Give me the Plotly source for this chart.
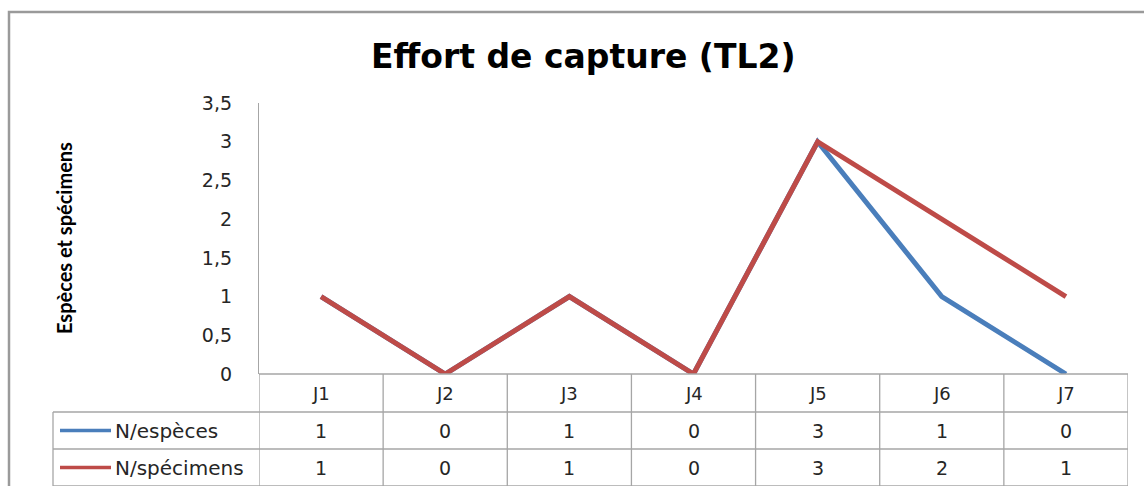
import plotly.graph_objects as go

categories = ["J1", "J2", "J3", "J4", "J5", "J6", "J7"]
especes = [1, 0, 1, 0, 3, 1, 0]
specimens = [1, 0, 1, 0, 3, 2, 1]
series_names = ["N/espèces", "N/spécimens"]
colors = ["#4A7EBB", "#BE4B48"]
title = "Effort de capture (TL2)"
y_title = "Espèces et spécimens"

W, H = 1144, 486
def px(x):
    return x / W
def py(y):
    return (H - y) / H

X0, X1 = 259, 1128
Y_TOP, Y_ZERO = 103, 374
ROWS = [374, 412, 449, 486]
TABLE_LEFT = 53
FONT = "DejaVu Sans"
TXT = "#262626"

fig = go.Figure()
for name, vals, col in zip(series_names, [especes, specimens], colors):
    fig.add_trace(go.Scatter(x=categories, y=vals, mode="lines", name=name,
                             line=dict(color=col, width=5), showlegend=False))

shapes = []
grid = dict(color="#A6A6A6", width=1.3)
shapes.append(dict(type="rect", xref="paper", yref="paper", x0=px(9), x1=1.02,
                   y0=-0.02, y1=py(12), line=dict(color="#9A9A9A", width=2.5)))
shapes.append(dict(type="line", xref="paper", yref="paper", x0=px(X0), x1=px(X1),
                   y0=py(ROWS[0]), y1=py(ROWS[0]), line=grid))
for r in ROWS[1:]:
    shapes.append(dict(type="line", xref="paper", yref="paper", x0=px(TABLE_LEFT), x1=px(X1),
                       y0=py(r), y1=py(r), line=grid))
shapes.append(dict(type="line", xref="paper", yref="paper", x0=px(TABLE_LEFT), x1=px(TABLE_LEFT),
                   y0=py(ROWS[1]), y1=py(ROWS[3]), line=grid))
for i in range(len(categories) + 1):
    xb = i - 0.5
    shapes.append(dict(type="line", xref="x", yref="paper", x0=xb, x1=xb,
                       y0=py(ROWS[0]), y1=py(ROWS[3]), line=grid))
for k, col in enumerate(colors):
    yc = (ROWS[k + 1] + ROWS[k + 2]) / 2
    shapes.append(dict(type="line", xref="paper", yref="paper", x0=px(60), x1=px(111),
                       y0=py(yc), y1=py(yc), line=dict(color=col, width=3.5)))

annotations = []
annotations.append(dict(text=title, xref="paper", yref="paper", x=px(583), y=py(56),
                        xanchor="center", yanchor="middle", showarrow=False,
                        font=dict(family=FONT, size=33, color="#000000", weight="bold")))
annotations.append(dict(text=y_title, xref="paper", yref="paper", x=px(64), y=py(238),
                        xanchor="center", yanchor="middle", showarrow=False, textangle=-90,
                        font=dict(family="Lato", size=20, color="#000000", weight="bold")))
for c in categories:
    annotations.append(dict(text=c, xref="x", yref="paper", x=c, y=py((ROWS[0] + ROWS[1]) / 2),
                            xanchor="center", yanchor="middle", showarrow=False,
                            font=dict(family=FONT, size=18, color=TXT)))
for k, (name, vals) in enumerate(zip(series_names, [especes, specimens])):
    yc = (ROWS[k + 1] + ROWS[k + 2]) / 2
    annotations.append(dict(text=name, xref="paper", yref="paper", x=px(113), y=py(yc),
                            xanchor="left", yanchor="middle", showarrow=False,
                            font=dict(family=FONT, size=20, color=TXT)))
    for c, v in zip(categories, vals):
        annotations.append(dict(text=str(v), xref="x", yref="paper", x=c, y=py(yc),
                                xanchor="center", yanchor="middle", showarrow=False,
                                font=dict(family=FONT, size=19, color=TXT)))

fig.update_layout(
    width=W, height=H, margin=dict(l=0, r=0, t=0, b=0, autoexpand=False),
    paper_bgcolor="white", plot_bgcolor="white",
    separators=", ",
    xaxis=dict(domain=[px(X0), px(X1)], range=[-0.5, 6.5], showticklabels=False,
               showgrid=False, zeroline=False, showline=False, fixedrange=True, automargin=False),
    yaxis=dict(domain=[py(Y_ZERO), py(Y_TOP)], range=[0, 3.5], dtick=0.5, tick0=0,
               showgrid=False, zeroline=False, showline=True, linecolor="#A6A6A6", linewidth=1.3,
               ticks="", ticklabelstandoff=22, automargin=False, fixedrange=True,
               tickfont=dict(family=FONT, size=19, color=TXT)),
    shapes=shapes, annotations=annotations,
)
fig.write_html("out.html", config={"displayModeBar": False},
               post_script="document.body.style.margin='0';document.body.style.overflow='hidden';")
